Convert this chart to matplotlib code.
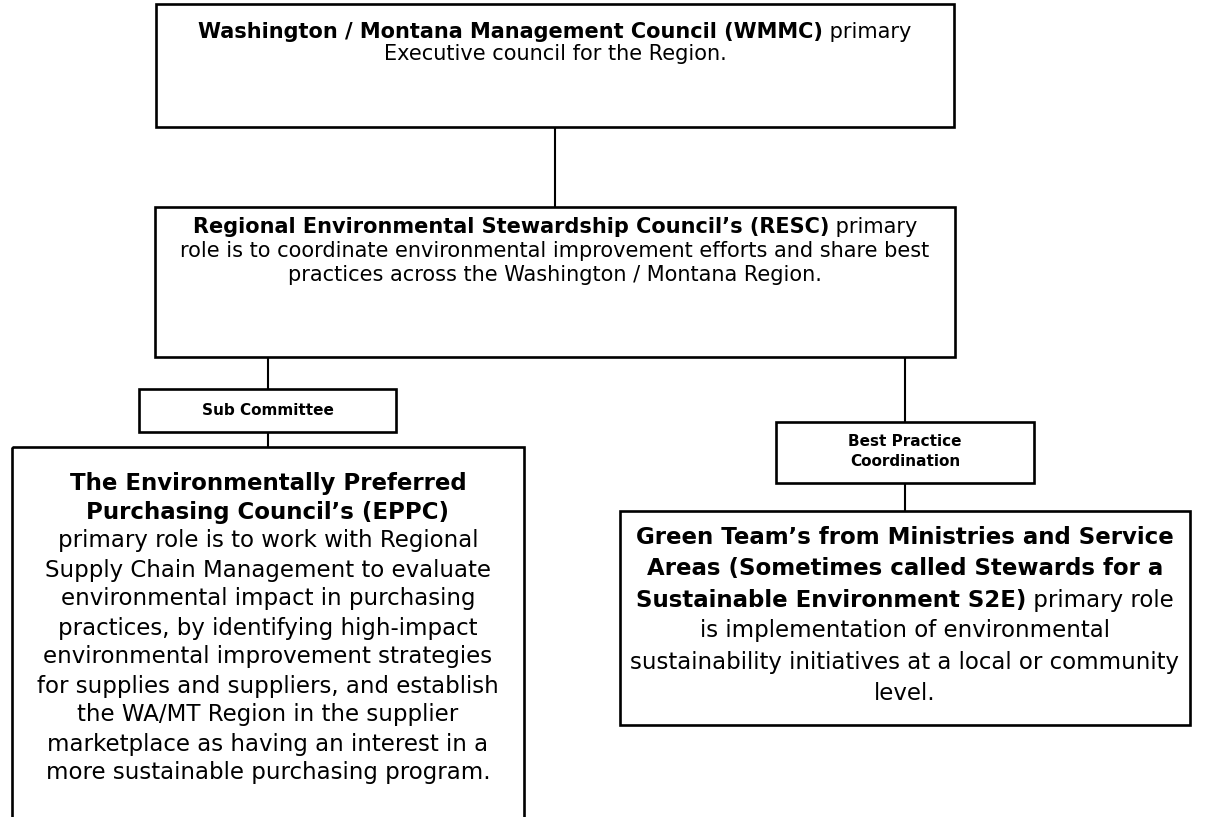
import matplotlib
matplotlib.use("Agg")
import matplotlib.pyplot as plt
from matplotlib.patches import Rectangle

# --- text content (each line is a list of (text, bold) runs) ---
WMMC_LINES = [
    [("Washington / Montana Management Council (WMMC)", True), (" primary", False)],
    [("Executive council for the Region.", False)],
]
RESC_LINES = [
    [("Regional Environmental Stewardship Council\u2019s (RESC)", True), (" primary", False)],
    [("role is to coordinate environmental improvement efforts and share best", False)],
    [("practices across the Washington / Montana Region.", False)],
]
SUB_LABEL = ["Sub Committee"]
BEST_LABEL = ["Best Practice", "Coordination"]
EPPC_LINES = [
    [("The Environmentally Preferred", True)],
    [("Purchasing Council\u2019s (EPPC)", True)],
    [("primary role is to work with Regional", False)],
    [("Supply Chain Management to evaluate", False)],
    [("environmental impact in purchasing", False)],
    [("practices, by identifying high-impact", False)],
    [("environmental improvement strategies", False)],
    [("for supplies and suppliers, and establish", False)],
    [("the WA/MT Region in the supplier", False)],
    [("marketplace as having an interest in a", False)],
    [("more sustainable purchasing program.", False)],
]
GREEN_LINES = [
    [("Green Team\u2019s from Ministries and Service", True)],
    [("Areas (Sometimes called Stewards for a", True)],
    [("Sustainable Environment S2E)", True), (" primary role", False)],
    [("is implementation of environmental", False)],
    [("sustainability initiatives at a local or community", False)],
    [("level.", False)],
]

W, H = 1214, 817
plt.rcParams['font.family'] = ['DejaVu Sans']

fig = plt.figure(figsize=(W / 100, H / 100), dpi=100)
ax = fig.add_axes([0, 0, 1, 1])
ax.set_xlim(0, W)
ax.set_ylim(H, 0)
ax.axis('off')
renderer = fig.canvas.get_renderer()


def box(x0, y0, x1, y1, lw=1.9):
    ax.add_patch(Rectangle((x0, y0), x1 - x0, y1 - y0, fill=False,
                           edgecolor='black', linewidth=lw))


def vline(x, y0, y1):
    ax.plot([x, x], [y0, y1], color='black', linewidth=1.5, solid_capstyle='butt')


def draw_line(cx, y, runs, size):
    # centre a line made of bold / normal runs
    texts = [ax.text(0, y, s, fontsize=size, fontweight='bold' if b else 'normal',
                     ha='left', va='center', color='black') for s, b in runs]
    widths = [t.get_window_extent(renderer).width for t in texts]
    x = cx - sum(widths) / 2
    for t, w in zip(texts, widths):
        t.set_x(x)
        x += w


def draw_block(cx, y_first, step, lines, size):
    for i, runs in enumerate(lines):
        draw_line(cx, y_first + i * step, runs, size)


# top council
box(156, 4, 954, 127)
draw_block(555, 32, 22, WMMC_LINES, 15)
vline(555, 127, 207)

# regional council
box(155, 207, 955, 357)
draw_block(555, 227, 24, RESC_LINES, 15)

# left branch
vline(268, 357, 389)
box(139, 389, 396, 432)
draw_block(268, 410, 20, [[(s, True)] for s in SUB_LABEL], 11)
vline(268, 432, 447)
box(12, 447, 524, 840)
draw_block(268, 483, 29, EPPC_LINES, 16.5)

# right branch
vline(905, 357, 422)
box(776, 422, 1034, 483)
draw_block(905, 441, 20, [[(s, True)] for s in BEST_LABEL], 11)
vline(905, 483, 511)
box(620, 511, 1190, 725)
draw_block(905, 538, 31, GREEN_LINES, 16.5)

fig.savefig("out.png", dpi=100)
